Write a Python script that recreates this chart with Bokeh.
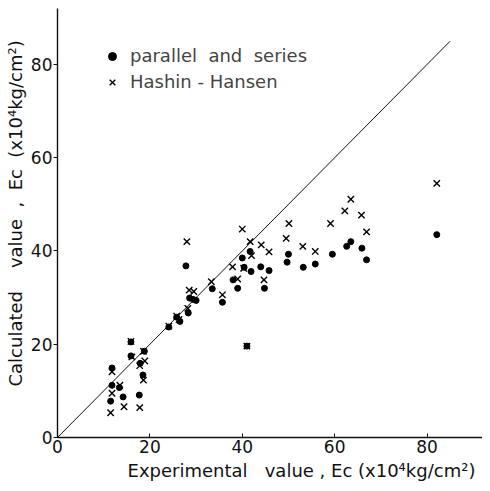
from bokeh.plotting import figure
from bokeh.models import Range1d, FixedTicker, Title, Legend, LegendItem
from bokeh.embed import file_html
from bokeh.resources import INLINE

# parallel and series (dots)
ps_x = [11.8, 11.8, 11.5, 13.4, 14.2, 15.9, 15.9, 17.7, 17.9, 18.5, 18.8, 24.1, 25.8, 26.5,
        27.8, 28.3, 28.6, 29.4, 30.0, 33.5, 35.7, 38.0, 39.0, 40.0, 40.4, 41.0, 41.7, 41.9,
        44.0, 44.8, 45.8, 49.7, 50.0, 53.2, 55.8, 59.5, 62.6, 63.5, 65.9, 66.9, 82.1]
ps_y = [14.9, 11.2, 7.8, 10.7, 8.7, 20.5, 17.5, 9.1, 15.9, 13.4, 18.5, 23.7, 25.8, 24.9,
        36.8, 26.7, 29.9, 29.6, 29.4, 31.9, 29.0, 33.8, 32.0, 38.5, 36.5, 19.6, 39.9, 35.6,
        36.6, 32.0, 35.8, 37.6, 39.3, 36.5, 37.2, 39.3, 41.0, 42.0, 40.6, 38.1, 43.5]

# Hashin - Hansen (crosses)
hh_x = [11.8, 11.8, 11.5, 13.5, 14.4, 15.9, 16.1, 17.8, 17.8, 18.6, 18.9, 18.6, 24.1, 25.8,
        26.3, 28.0, 28.2, 28.5, 29.5, 33.3, 35.7, 37.9, 39.0, 40.0, 40.3, 41.0, 41.7, 42.0,
        44.1, 44.7, 45.8, 49.5, 50.1, 53.1, 55.8, 59.1, 62.2, 63.5, 65.8, 66.9, 82.1]
hh_y = [14.1, 9.5, 5.3, 11.2, 6.6, 20.6, 17.3, 15.4, 6.4, 18.5, 16.4, 12.3, 23.9, 26.0,
        25.3, 42.0, 27.7, 31.6, 31.3, 33.4, 30.6, 36.6, 34.0, 44.7, 36.3, 19.6, 42.0, 39.0,
        41.3, 33.8, 39.8, 42.7, 45.9, 41.0, 39.9, 45.9, 48.6, 51.1, 47.7, 44.1, 54.5]

identity = [0, 85]
ticks = [0, 20, 40, 60, 80]
NB = "\u00a0"
x_title = NB * 11 + "Experimental" + NB * 3 + "value" + NB + "," + NB + "Ec" + NB + "(x10\u2074kg/cm\u00b2)"
y_title = "Calculated" + NB * 4 + "value" + NB * 2 + "," + NB * 2 + "Ec" + NB * 2 + "(x10\u2074kg/cm\u00b2)"
lab1 = "parallel" + NB * 2 + "and" + NB * 2 + "series"
lab2 = "Hashin" + NB + "-" + NB + "Hansen"
FONT = "DejaVu Sans"

p = figure(width=482, height=483, output_backend="svg", toolbar_location=None,
           x_range=Range1d(0, 92), y_range=Range1d(0, 92),
           min_border_left=51, min_border_right=0, min_border_top=8, min_border_bottom=44)
p.outline_line_color = None
p.grid.visible = False
p.background_fill_color = "white"

for ax in (p.xaxis[0], p.yaxis[0]):
    ax.ticker = FixedTicker(ticks=ticks)
    ax.axis_line_color = "#111"
    ax.axis_line_width = 1.4
    ax.major_tick_line_color = "#111"
    ax.minor_tick_line_color = None
    ax.major_label_text_font = FONT
    ax.major_label_text_font_size = "17px"
    ax.major_label_text_color = "#111"

p.xaxis.major_tick_in = 4
p.xaxis.major_tick_out = 0
p.xaxis.major_label_standoff = 2
p.xaxis.axis_label = x_title
p.xaxis.axis_label_standoff = 4
p.xaxis.axis_label_text_font = FONT
p.xaxis.axis_label_text_font_size = "18px"
p.xaxis.axis_label_text_font_style = "normal"
p.xaxis.axis_label_text_color = "#111"
p.yaxis.major_tick_in = 0
p.yaxis.major_tick_out = 4
p.yaxis.major_label_standoff = 1

p.line(identity, identity, line_color="#111", line_width=1)
r1 = p.scatter(ps_x, ps_y, marker="circle", size=6, color="black")
r2 = p.scatter(hh_x, hh_y, marker="x", size=9, line_color="black", line_width=1.4)

legend = Legend(items=[LegendItem(label=lab1, renderers=[r1]),
                       LegendItem(label=lab2, renderers=[r2])],
                location=(45, 345), padding=0, margin=0, spacing=5,
                glyph_width=20, glyph_height=20, label_height=20, label_standoff=8,
                label_text_font=FONT, label_text_font_size="18px",
                border_line_alpha=0, background_fill_alpha=0)
p.add_layout(legend)

p.add_layout(Title(text=y_title, align="left", offset=51, standoff=4,
                   text_font=FONT, text_font_size="18px", text_font_style="normal",
                   text_color="#111"), "left")

open("out.html", "w").write(file_html(p, INLINE))
